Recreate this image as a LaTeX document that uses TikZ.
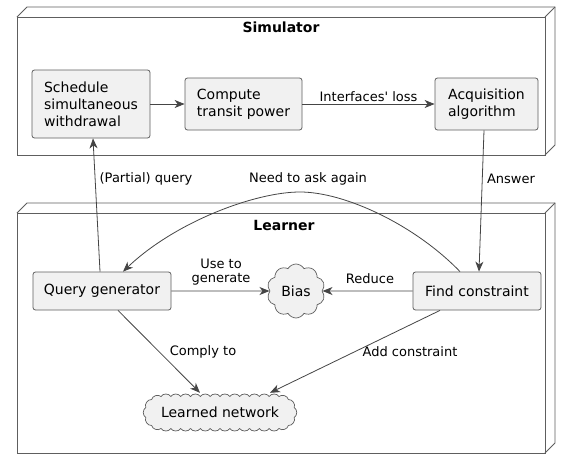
\documentclass[tikz,border=0pt]{standalone}
\usepackage{fontspec}
\setmainfont{DejaVu Sans}
\usetikzlibrary{shapes.symbols,arrows.meta,calc}
\definecolor{boxfill}{HTML}{F1F1F1}
\definecolor{boxline}{HTML}{5E5E5E}
\definecolor{edgeline}{HTML}{454545}
\newcommand{\straightquote}{\XeTeXglyph\the\XeTeXcharglyph"0027\relax}
\begin{document}
\begin{tikzpicture}[x=1pt,y=-1pt,
  every node/.style={font=\fontsize{14}{17}\selectfont},
  comp/.style={draw=boxline,fill=boxfill,rounded corners=2.5pt,line width=0.8pt,align=left,inner xsep=10pt,inner ysep=8pt},
  cloudy/.style={cloud,draw=boxline,fill=boxfill,line width=0.7pt,cloud ignores aspect},
  cloudpath/.style={draw=boxline,fill=boxfill,line width=0.7pt},
  bump/.style={bend left=60},
  frame/.style={draw=boxline,line width=0.9pt},
  title/.style={font=\fontsize{14}{17}\selectfont\bfseries},
  edge/.style={draw=edgeline,line width=0.8pt,-{Stealth[length=10pt,width=8pt,inset=3pt]}},
  lbl/.style={font=\fontsize{13}{16}\selectfont,align=center,inner sep=1pt}]
\useasboundingbox (0,0) rectangle (573,469);
\fill[white] (0,0) rectangle (573,469);
% Simulator frame
\draw[frame] (17,17) rectangle (545,155);
\draw[frame] (17,17) -- (27,7) -- (555,7) -- (555,145) -- (545,155);
\draw[frame] (545,17) -- (555,7);
\node[title] (simt) at (281,27) {Simulator};
% Learner frame
\draw[frame] (17,213) rectangle (545,453);
\draw[frame] (17,213) -- (27,203) -- (555,203) -- (555,443) -- (545,453);
\draw[frame] (545,213) -- (555,203);
\node[title] (lrnt) at (284,225) {Learner};
% nodes
\node[comp,minimum width=118pt,minimum height=68pt] (sched) at (91,104) {Schedule\\simultaneous\\withdrawal};
\node[comp,minimum width=117pt,minimum height=52pt] (comp) at (243.5,104) {Compute\\transit power};
\node[comp,minimum width=103pt,minimum height=52pt] (acq) at (486.5,104) {Acquisition\\algorithm};
\node[comp,minimum width=138pt,minimum height=38pt] (qg) at (102,291) {Query generator};
\node[comp,minimum width=128pt,minimum height=38pt] (fc) at (477,291) {Find constraint};
\node[cloudy,cloud puffs=10,cloud puff arc=120,minimum width=58pt,minimum height=54pt,inner sep=0pt] (bias) at (296,291) {Bias};
% Learned network cloud
\path[cloudpath] (161,396.5)
  \foreach \k in {1,...,12} { to[bump] ({161+\k*118/12},396.5) }
  \foreach \a in {-54,-18,18,54,90} { to[bump] ({279+16*cos(\a)},{412.5+16*sin(\a)}) }
  \foreach \k in {1,...,12} { to[bump] ({279-\k*118/12},428.5) }
  \foreach \a in {126,162,198,234,270} { to[bump] ({161+16*cos(\a)},{412.5+16*sin(\a)}) }
  -- cycle;
\node[inner sep=0pt,minimum width=148pt,minimum height=33pt] (ln) at (220,412.5) {Learned network};
% edges
\draw[edge] (sched) -- (comp);
\draw[edge] (comp) -- node[lbl,above=1pt] (l1) {Interfaces\straightquote{} loss} (acq);
\draw[edge] ($(acq.south)+(-2.5,0)$) -- ($(fc.north)+(2,0)$);
\node[lbl] (l2) at (511,179) {Answer};
\draw[edge] ($(qg.north)+(-2,0)$) -- ($(sched.south)+(2,0)$);
\node[lbl] (l3) at (146,179) {(Partial) query};
\draw[edge] ($(fc.north)+(-17,0)$) .. controls (415,225) and (345,192) .. (300,192) .. controls (255,192) and (175,222) .. ($(qg.north)+(21,0)$);
\node[lbl] (l4) at (308,179) {Need to ask again};
\draw[edge] (qg) -- (bias);
\node[lbl] (l5) at (221,272) {Use to\\[-2pt]generate};
\draw[edge] (fc) -- (bias);
\node[lbl] (l6) at (370,279) {Reduce};
\draw[edge] ($(qg.south)+(16,0)$) -- ($(ln.north)+(-20,-3)$);
\node[lbl] (l7) at (203,352) {Comply to};
\draw[edge] ($(fc.south)+(-37,0)$) -- ($(ln.north)+(50,-3)$);
\node[lbl] (l8) at (410,352) {Add constraint};
\end{tikzpicture}
\end{document}
